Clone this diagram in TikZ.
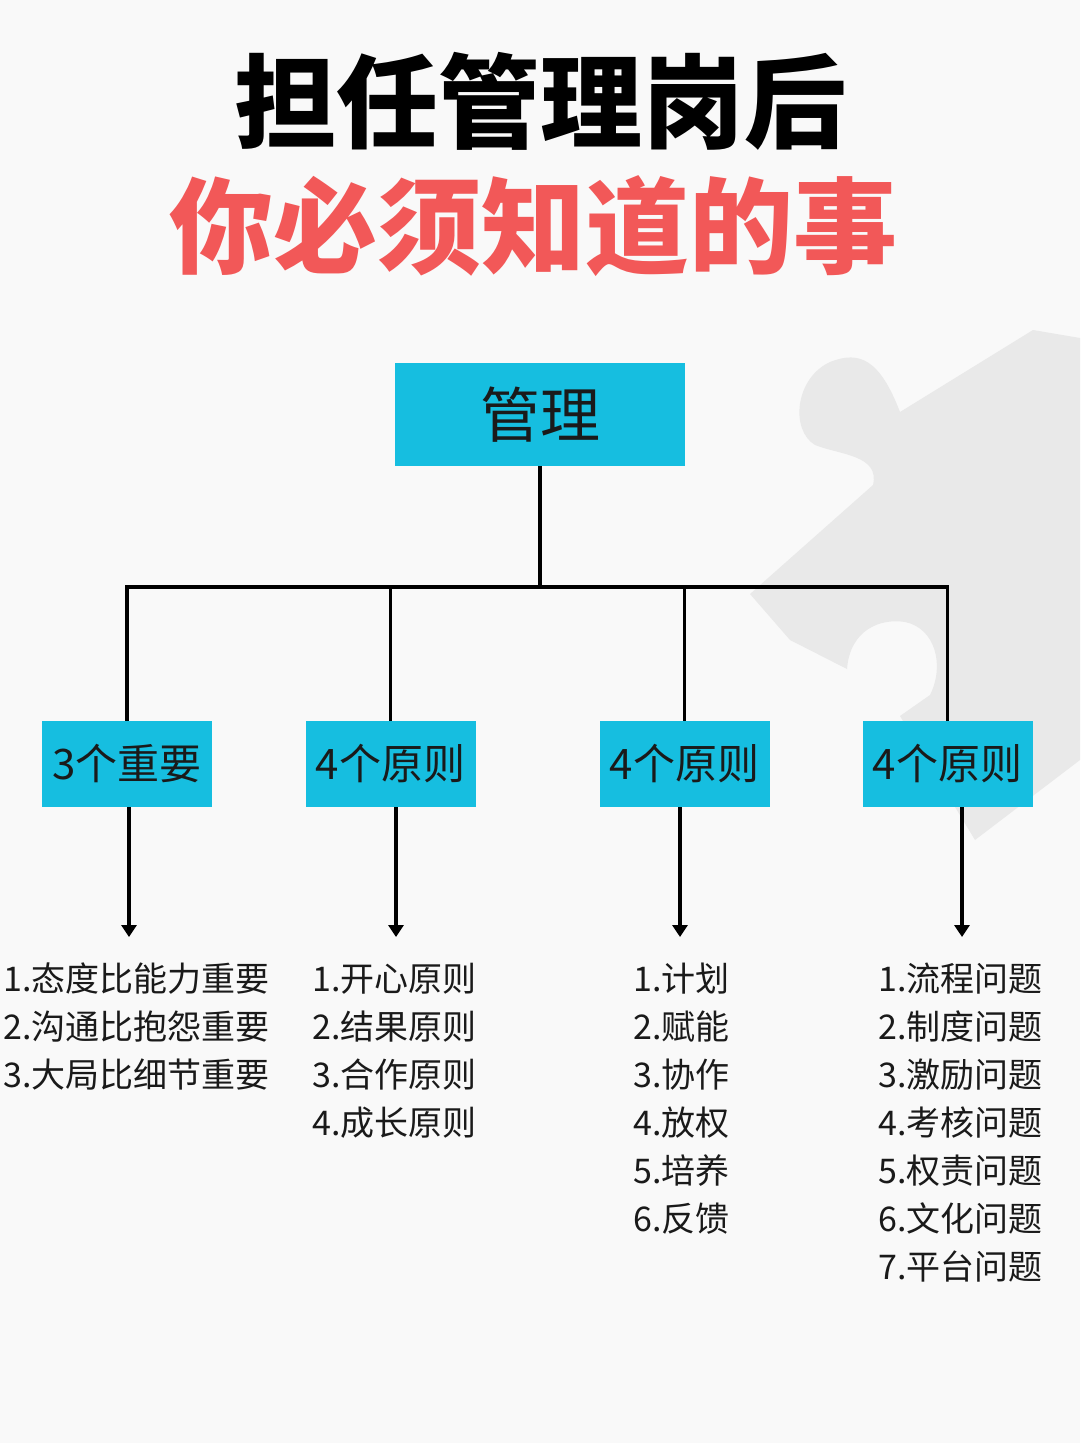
\documentclass[tikz,border=0pt]{standalone}
\usepackage{fontspec}
\setmainfont{Noto Sans CJK SC}
\usetikzlibrary{arrows.meta}
\definecolor{boxcyan}{RGB}{22,190,224}
\definecolor{titlered}{RGB}{242,88,88}
\definecolor{textdark}{RGB}{26,26,26}
\definecolor{bgwhite}{RGB}{249,249,249}
\definecolor{piecegray}{RGB}{233,233,233}
\begin{document}
\begin{tikzpicture}[x=1pt,y=-1pt,
  box/.style={fill=boxcyan, minimum width=170pt, minimum height=86pt, inner sep=0pt, text=textdark, font=\fontsize{42}{42}\selectfont},
  topbox/.style={fill=boxcyan, minimum width=290pt, minimum height=103pt, inner sep=0pt, text=textdark, font=\fontsize{60}{60}\selectfont},
  titleA/.style={anchor=base, inner sep=0pt, text=black, font=\fontsize{102}{102}\selectfont\bfseries},
  titleB/.style={anchor=base, inner sep=0pt, text=titlered, font=\fontsize{104}{104}\selectfont\bfseries},
  item/.style={anchor=base west, inner sep=0pt, text=textdark, font=\fontsize{34}{34}\selectfont},
  link/.style={line width=3.5pt, draw=black},
  arr/.style={link, -{Triangle[width=15pt,length=12pt]}}
]
\fill[bgwhite] (0,0) rectangle (1080,1443);
\fill[piecegray] (1080,338) -- (1033,330) -- (900,412)
  .. controls (880,360) and (860,350) .. (830,362)
  .. controls (795,378) and (790,430) .. (815,445)
  .. controls (840,455) and (880,455) .. (873,485)
  -- (750,594) -- (790,640) -- (847,669)
  .. controls (850,630) and (880,618) .. (905,622)
  .. controls (935,628) and (945,665) .. (930,695)
  -- (900,716) -- (975,840) -- (1080,760) -- cycle;
\path[use as bounding box] (0,0) rectangle (1080,1443);

\node[titleA] (t1) at (540,140) {担任管理岗后};
\node[titleB] (t2) at (533,265) {你必须知道的事};

\node[topbox] (top) at (540,414.5) {管理};
\node[box] (b1) at (127,764) {3个重要};
\node[box] (b2) at (390.5,764) {4个原则};
\node[box] (b3) at (684.5,764) {4个原则};
\node[box] (b4) at (947.5,764) {4个原则};

\coordinate (j) at (540,587);
\draw[link] (top.south) -- (j);
\draw[link] (b1.north) |- (j) -| (b4.north);
\draw[link] (b2.north) -- (b2.north |- j);
\draw[link] (b3.north) -- (b3.north |- j);

\coordinate (a1) at (129,937);
\coordinate (a2) at (396,937);
\coordinate (a3) at (680,937);
\coordinate (a4) at (962,937);
\draw[arr] (b1.south -| a1) -- (a1);
\draw[arr] (b2.south -| a2) -- (a2);
\draw[arr] (b3.south -| a3) -- (a3);
\draw[arr] (b4.south -| a4) -- (a4);

\foreach \t [count=\i] in {态度比能力重要,沟通比抱怨重要,大局比细节重要}
  \node[item] (p\i) at (3,{991+48*(\i-1)}) {\i.\t};
\foreach \t [count=\i] in {开心原则,结果原则,合作原则,成长原则}
  \node[item] (q\i) at (312,{991+48*(\i-1)}) {\i.\t};
\foreach \t [count=\i] in {计划,赋能,协作,放权,培养,反馈}
  \node[item] (r\i) at (633,{991+48*(\i-1)}) {\i.\t};
\foreach \t [count=\i] in {流程问题,制度问题,激励问题,考核问题,权责问题,文化问题,平台问题}
  \node[item] (s\i) at (878,{991+48*(\i-1)}) {\i.\t};
\end{tikzpicture}
\end{document}
